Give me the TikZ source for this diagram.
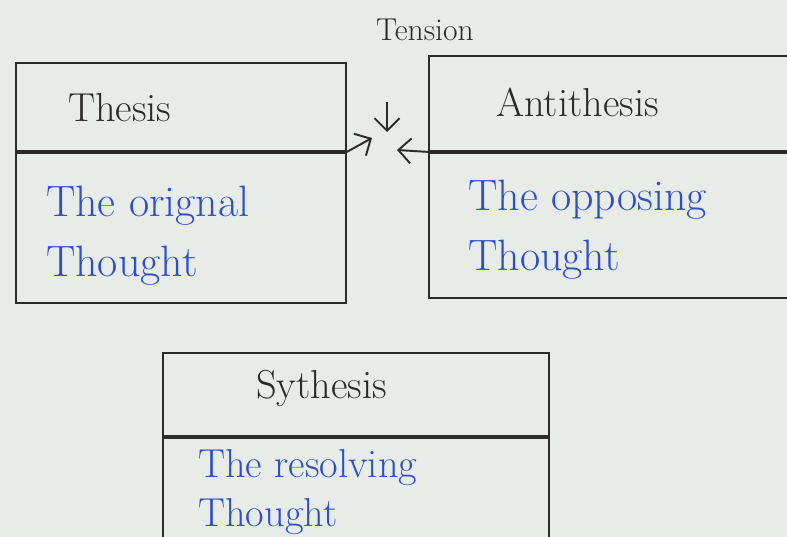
\documentclass[tikz,border=0pt]{standalone}
\usetikzlibrary{arrows.meta, positioning}
\definecolor{PencilInk}{HTML}{2B2B2B}
\definecolor{BlueInk}{HTML}{2F4FC8}
\definecolor{NotePaper}{HTML}{E8ECE8}
\tikzset{
  cellbox/.style={draw=PencilInk, line width=1.1pt, anchor=north west,
                  inner sep=0pt},
  headtext/.style={font=\fontsize{23}{27}\selectfont, text=PencilInk,
                   anchor=west},
  bodytext/.style={font=\fontsize{25}{34}\selectfont, text=BlueInk,
                   align=left, anchor=west},
  pullarrow/.style={-{Straight Barb[length=2.5mm]}, line width=1.1pt,
                    draw=PencilInk},
}

\begin{document}
\begin{tikzpicture}[x=0.02cm, y=-0.02cm]
  \fill[NotePaper] (0,0) rectangle (787,537);
  \useasboundingbox (0,0) rectangle (787,537);
  % thesis
  \node[cellbox, minimum width=6.6cm, minimum height=1.76cm]
    (thesishead) at (15,62) {};
  \node[cellbox, minimum width=6.6cm, minimum height=3cm]
    (thesisbody) at (thesishead.south west) {};
  \node[headtext] (thesislab) at (62,108) {Thesis};
  \node[bodytext] (thesistxt) at (40,236) {The orignal\\Thought};
  % antithesis, runs off the right edge
  \node[cellbox, minimum width=7.5cm, minimum height=1.9cm]
    (antihead) at (428,55) {};
  \node[cellbox, minimum width=7.5cm, minimum height=2.9cm]
    (antibody) at (antihead.south west) {};
  \node[headtext] (antilab) at (490,102) {Antithesis};
  \node[bodytext] (antitxt) at (462,230) {The opposing\\Thought};
  % synthesis, its body runs past the bottom edge
  \node[cellbox, minimum width=7.72cm, minimum height=1.66cm]
    (synhead) at (162,352) {};
  \node[cellbox, minimum width=7.72cm, minimum height=3cm]
    (synbody) at (synhead.south west) {};
  \node[headtext] (synlab) at (250,388) {Sythesis};
  \node[bodytext, font=\fontsize{23}{28}\selectfont]
    (syntxt) at (192,492) {The resolving\\Thought};
  % tension between the two
  \node[font=\fontsize{18}{20}\selectfont, text=PencilInk]
    (tension) at (425,30) {Tension};
  \coordinate (meetL) at (372,138);
  \coordinate (meetR) at (397,150);
  \coordinate (meetT) at (387,132);
  \draw[pullarrow] (thesishead.south east) -- (meetL);
  \draw[pullarrow] (antihead.south west) -- (meetR);
  \draw[pullarrow, shorten <=1.1cm] (tension.south -| meetT) -- (meetT);
\end{tikzpicture}
\end{document}
